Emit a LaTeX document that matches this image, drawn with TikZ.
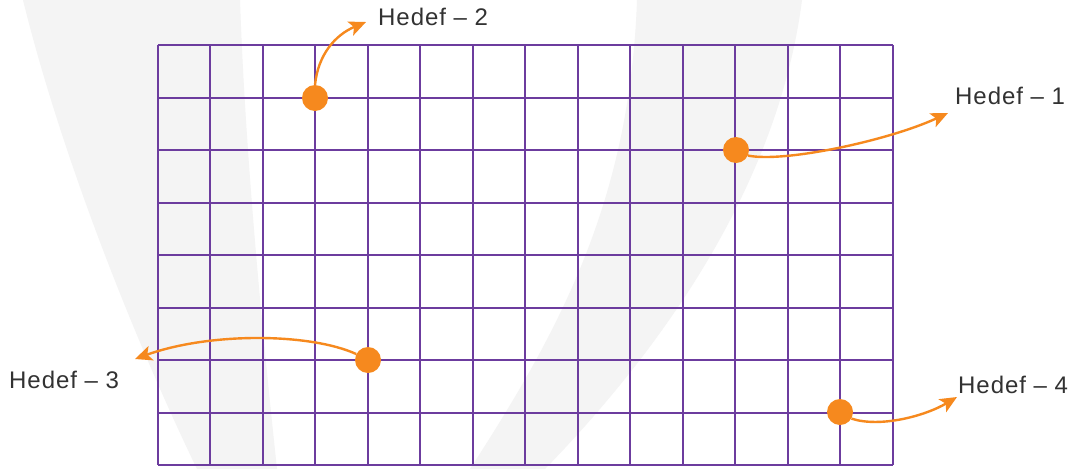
\documentclass[tikz,border=0pt]{standalone}
\usepackage{fontspec}
\setmainfont{Liberation Sans}[LetterSpace=4]
\usetikzlibrary{arrows.meta}
\definecolor{gridpurple}{RGB}{108,60,158}
\definecolor{dotorange}{RGB}{246,137,30}
\definecolor{wmgray}{RGB}{244,244,244}
\definecolor{txtgray}{RGB}{50,50,50}
\tikzset{
  gridline/.style={draw=gridpurple, line width=2pt},
  dotnode/.style={circle, fill=dotorange, minimum size=26pt, inner sep=0pt},
  hlabel/.style={anchor=base west, inner sep=0pt, text=txtgray, font=\fontsize{24}{28}\selectfont},
  harrow/.style={draw=dotorange, line width=2.4pt, -{Stealth[length=17pt,width=15pt,inset=4pt]}}
}
\begin{document}
\begin{tikzpicture}[x=1pt,y=-1pt]
\useasboundingbox (0,0) rectangle (1073,469);
\fill[white] (0,0) rectangle (1073,469);
% watermark bands
\fill[wmgray] (23,0) .. controls (60,150) and (130,330) .. (197,469)
  -- (277,469) .. controls (262,330) and (245,150) .. (240,0) -- cycle;
\fill[wmgray] (637,0) .. controls (630,200) and (560,330) .. (470,469)
  -- (545,469) .. controls (680,330) and (780,170) .. (802,0) -- cycle;
% grid
\foreach \i in {0,...,14} {
  \draw[gridline] ({157.5+52.5*\i},45) -- ({157.5+52.5*\i},465);
}
\foreach \j in {0,...,8} {
  \draw[gridline] (157.5,{45+52.5*\j}) -- (892.5,{45+52.5*\j});
}
% dots
\node[dotnode] (d1) at (736,150) {};
\node[dotnode] (d2) at (315,98) {};
\node[dotnode] (d3) at (368,360) {};
\node[dotnode] (d4) at (840,412) {};
% labels
\node[hlabel] (l1) at (955,104) {Hedef – 1};
\node[hlabel] (l2) at (378,25) {Hedef – 2};
\node[hlabel] (l3) at (9,388) {Hedef – 3};
\node[hlabel] (l4) at (958,393) {Hedef – 4};
% arrow tips
\coordinate (t1) at (948,113);
\coordinate (t2) at (366,22);
\coordinate (t3) at (135,359);
\coordinate (t4) at (957,397);
% arrows
\draw[harrow] (d1.-25) .. controls (785,163) and (890,140) .. (t1);
\draw[harrow] (d2.north) .. controls (318,55) and (335,35) .. (t2);
\draw[harrow] (d3.153) .. controls (310,333) and (210,332) .. (t3);
\draw[harrow] (d4.-30) .. controls (880,428) and (925,416) .. (t4);
\end{tikzpicture}
\end{document}
